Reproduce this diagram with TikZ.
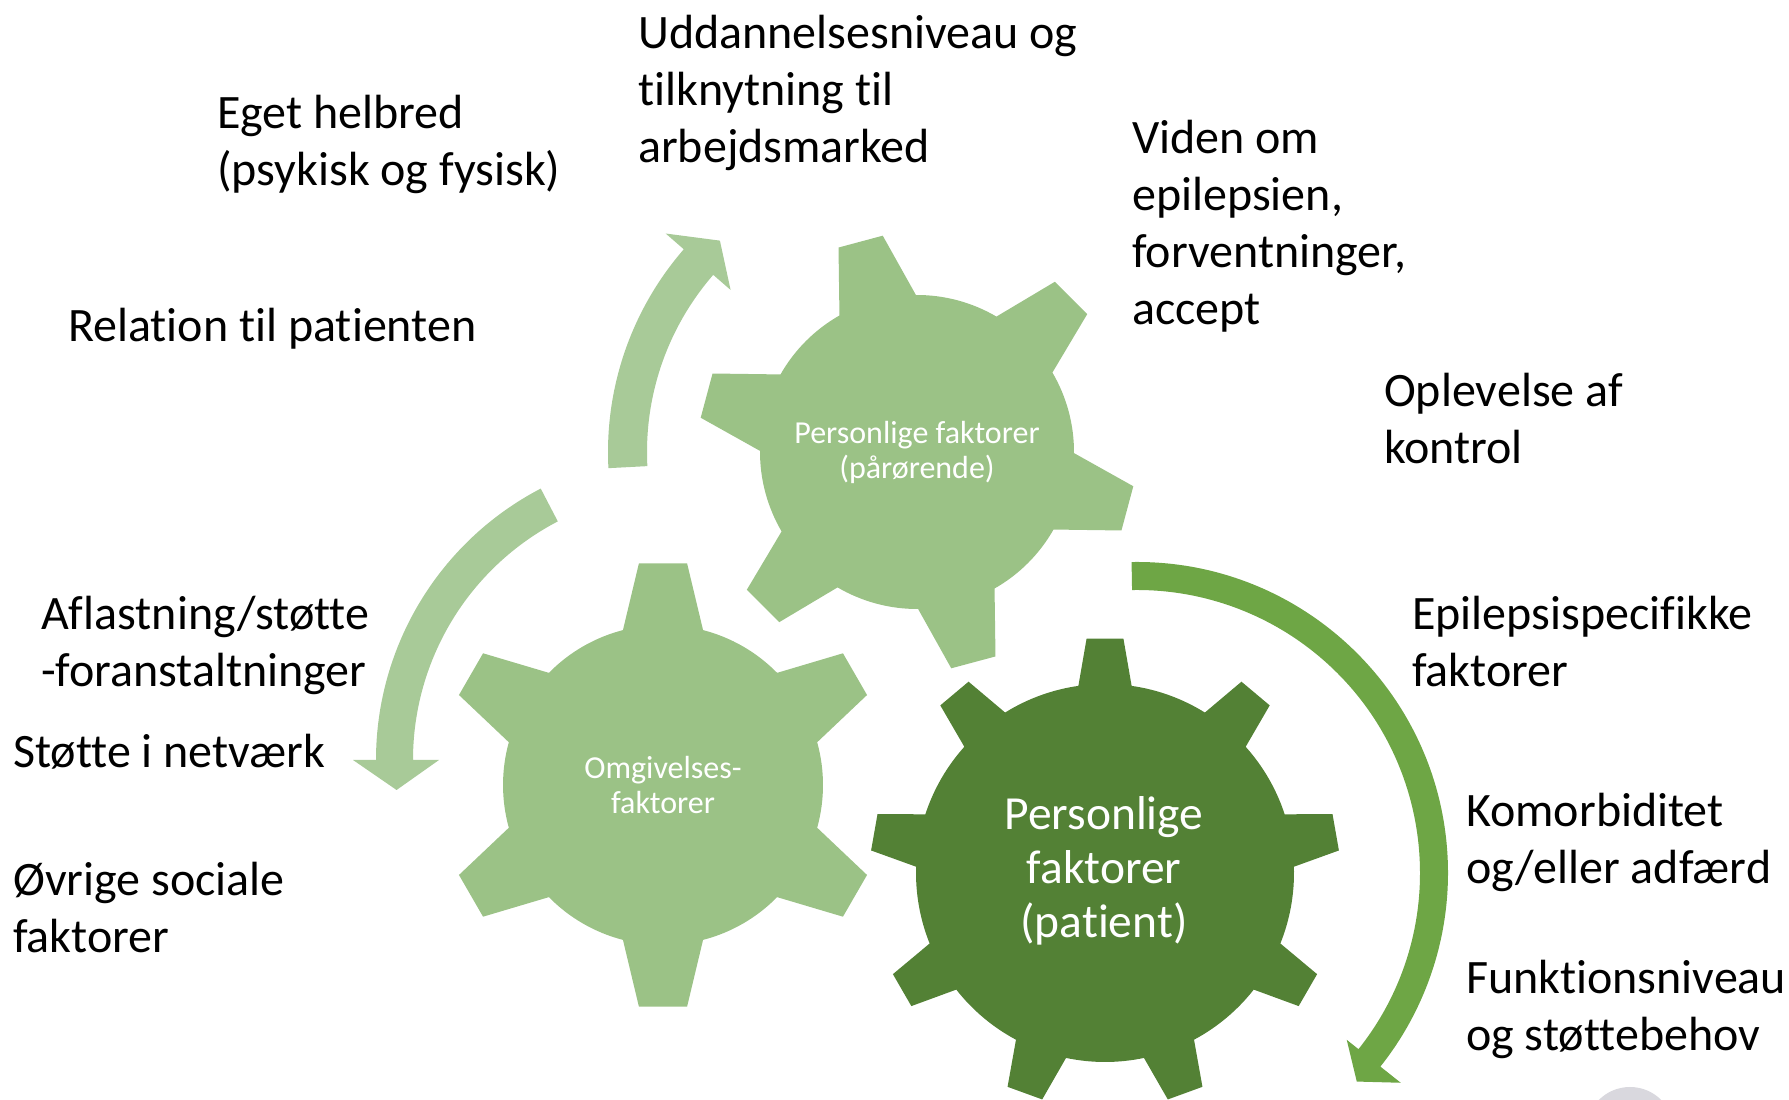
\documentclass[tikz,border=0pt]{standalone}
\usepackage{fontspec}
\setmainfont[Ligatures=NoCommon]{Carlito}

\definecolor{lysgroen}{RGB}{155,194,134}
\definecolor{pilgroen}{RGB}{168,202,152}
\definecolor{moerkgroen}{RGB}{83,129,53}
\definecolor{mellemgroen}{RGB}{110,166,69}
\definecolor{lysgraa}{RGB}{217,216,222}

\tikzset{
  faktor/.style={anchor=base west, inner sep=0pt, align=left, font=\fontsize{48}{57}\selectfont},
  hjultekst/.style={text=white, align=center, inner sep=0pt, font=\fontsize{32}{35}\selectfont},
}

% tandhjul: farve, centrum, antal taender, foerste vinkel, radius, tandradius, halv basisvinkel, halv spidsvinkel
\newcommand{\tandhjul}[8]{%
  \fill[#1, shift={#2}] (#4-#7:#5)
    \foreach \k [evaluate=\k as \v using #4+(\k-1)*360/#3] in {1,...,#3} {
      -- (\v-#8:#6) -- (\v+#8:#6) -- (\v+#7:#5)
      arc[start angle=\v+#7, end angle=\v+360/#3-#7, radius=#5]
    } -- cycle;
}

\begin{document}
\begin{tikzpicture}[x=1pt,y=1pt]

\clip (0,0) rectangle (1789,1100);

% Centre
\coordinate (omg) at (663,315);
\coordinate (paar) at (917,648);
\coordinate (pat) at (1105,227);

% Pil oppe til venstre
\fill[pilgroen, shift={(paar)}] (183:309) arc[start angle=183, end angle=139, radius=309]
  -- (139:333) -- (133:289) -- (139:247) -- (139:270)
  arc[start angle=139, end angle=183, radius=270] -- cycle;

% Pil nede til venstre
\fill[pilgroen, shift={(682,340)}] (117.5:306) arc[start angle=117.5, end angle=180, radius=306]
  -- (180:329) -- (186:287) -- (180:243) -- (180:269)
  arc[start angle=180, end angle=117.5, radius=269] -- cycle;

% Pil til hoejre
\fill[mellemgroen, shift={(1137,227)}] (91:311) arc[start angle=91, end angle=-38.5, radius=311]
  -- (-38.5:337) -- (-43.5:303) -- (-38.5:268) -- (-38.5:283)
  arc[start angle=-38.5, end angle=91, radius=283] -- cycle;

% Tandhjul
\tandhjul{lysgroen}{(omg)}{6}{90}{160}{223}{14.5}{6.2}
\tandhjul{lysgroen}{(paar)}{6}{105}{157}{219}{14.6}{6}
\tandhjul{moerkgroen}{(pat)}{9}{90}{189}{235}{8.1}{4.5}

% Graa cirkel i hjoernet
\fill[lysgraa] (1630,-31) circle[radius=44];

% Tekst i tandhjul
\node[hjultekst] (omgtekst) at (omg) {Omgivelses-\\faktorer};
\node[hjultekst] (paartekst) at (paar) {Personlige faktorer\\(pårørende)};
\node[hjultekst, font=\fontsize{47.5}{54}\selectfont] (pattekst) at (1104,229) {Personlige\\faktorer\\(patient)};

% Faktorer (sidste linjes grundlinje)
\node[faktor] (uddannelse) at (638,937) {Uddannelsesniveau og\\tilknytning til\\arbejdsmarked};
\node[faktor] (helbred) at (217,914) {Eget helbred\\(psykisk og fysisk)};
\node[faktor] (relation) at (68,758) {Relation til patienten};
\node[faktor] (viden) at (1132,775) {Viden om\\epilepsien,\\forventninger,\\accept};
\node[faktor] (kontrol) at (1384,636) {Oplevelse af\\kontrol};
\node[faktor] (aflastning) at (41,413) {Aflastning/støtte\\-foranstaltninger};
\node[faktor] (netvaerk) at (13,332) {Støtte i netværk};
\node[faktor] (sociale) at (13,147) {Øvrige sociale\\faktorer};
\node[faktor] (epilepsi) at (1412,413) {Epilepsispecifikke\\faktorer};
\node[faktor] (komorbiditet) at (1466,216) {Komorbiditet\\og/eller adfærd};
\node[faktor] (funktion) at (1466,49) {Funktionsniveau\\og støttebehov};

\end{tikzpicture}
\end{document}
